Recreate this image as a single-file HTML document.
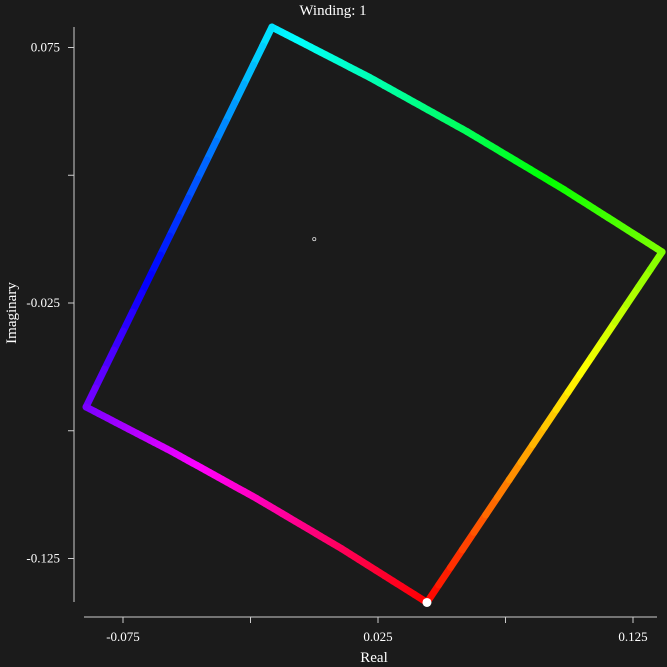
<!DOCTYPE html>
<html><head><meta charset="utf-8"><style>
html,body{margin:0;padding:0;background:#1b1b1b;}
svg{display:block;font-family:"Liberation Serif",serif;}
</style></head><body>
<svg id="chart" width="667" height="667">
<rect width="667" height="667" fill="#1b1b1b"/>
<text x="333" y="15" fill="#fff" font-size="15" text-anchor="middle">Winding: 1</text>
<text transform="translate(16,313) rotate(-90)" fill="#fff" font-size="15" text-anchor="middle">Imaginary</text>
<text x="374" y="662" fill="#fff" font-size="15" text-anchor="middle">Real</text>
<g id="axes"></g>
<g id="path"></g>
</svg>
<script>
const re = [0.0442, 0.1364, 0.0981, 0.0599, 0.0217, -0.0166, -0.0895, -0.0561, -0.0226, 0.0108, 0.0442];
const im = [-0.1422, -0.005, 0.0193, 0.0421, 0.0633, 0.083, -0.0657, -0.083, -0.1015, -0.1212, -0.1422];
const hue = [0, 90, 115, 140, 162, 185, 268, 292, 315, 338, 360];
const xTicks = [-0.075, 0.025, 0.125];
const xMinor = [-0.025, 0.075];
const yTicks = [0.075, -0.025, -0.125];
const yMinor = [0.025, -0.075];
const centerRe = 0, centerIm = 0;

const NS = "http://www.w3.org/2000/svg";
const X = v => 378 + (v - 0.025) * 2550;
const Y = v => 303 - (v + 0.025) * 2555;
function mk(tag, attrs, parent){const e=document.createElementNS(NS,tag);for(const k in attrs)e.setAttribute(k,attrs[k]);parent.appendChild(e);return e;}
const ax = document.getElementById('axes');
let l = mk('line',{x1:74,y1:27,x2:74,y2:602,stroke:'#ccc','stroke-width':1},ax);


l = mk('line',{x1:84,y1:617,x2:657,y2:617,stroke:'#ccc','stroke-width':1},ax);


xTicks.concat(xMinor).forEach((v,i)=>{
  const t = mk('line',{x1:X(v),y1:617,x2:X(v),y2:623,stroke:'#ccc'},ax);
  
  
  if(i<xTicks.length){
    const tx = mk('text',{x:X(v),y:641,fill:'#fff','font-size':13,'text-anchor':'middle'},ax);
    tx.textContent = v.toFixed(3);
    
    
  }
});
yTicks.concat(yMinor).forEach((v,i)=>{
  const t = mk('line',{x1:68,y1:Y(v),x2:74,y2:Y(v),stroke:'#ccc'},ax);
  
  
  if(i<yTicks.length){
    const tx = mk('text',{x:60,y:Y(v)+4,fill:'#fff','font-size':13,'text-anchor':'end'},ax);
    tx.textContent = v.toFixed(3);
    
    
  }
});
const pg = document.getElementById('path');
for(let i=0;i<re.length-1;i++){
  const N=20;
  for(let k=0;k<N;k++){
    const a=k/N,b=(k+1)/N;
    const r0=re[i]+(re[i+1]-re[i])*a, i0=im[i]+(im[i+1]-im[i])*a;
    const r1=re[i]+(re[i+1]-re[i])*b, i1=im[i]+(im[i+1]-im[i])*b;
    const h=hue[i]+(hue[i+1]-hue[i])*(a+b)/2;
    const s=mk('line',{x1:X(r0),y1:Y(i0),x2:X(r1),y2:Y(i1),stroke:`hsl(${h%360},100%,50%)`,'stroke-width':7,'stroke-linecap':'round'},pg);
    
    
  }
}
const st = mk('circle',{cx:X(re[0]),cy:Y(im[0]),r:4.5,fill:'#fff'},pg);


const c = mk('circle',{cx:X(centerRe),cy:Y(centerIm),r:1.6,fill:'none',stroke:'#ddd','stroke-width':0.8},pg);


</script>
</body></html>
